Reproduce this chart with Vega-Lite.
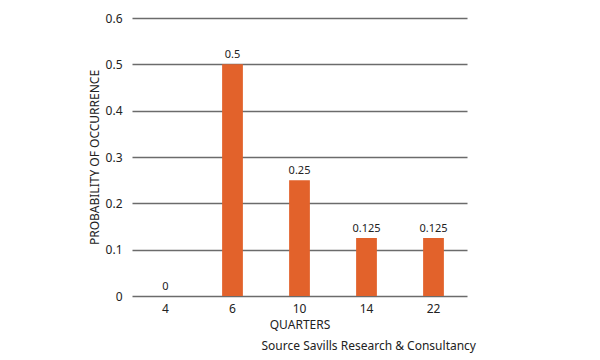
{
  "$schema": "https://vega.github.io/schema/vega-lite/v6.json",
  "width": 335,
  "height": 278,
  "autosize": {"type": "none"},
  "padding": {"left": 132, "top": 18, "right": 133, "bottom": 64},
  "background": "white",
  "data": {
    "values": [
      {"quarters": "4", "p": 0, "label": "0"},
      {"quarters": "6", "p": 0.5, "label": "0.5"},
      {"quarters": "10", "p": 0.25, "label": "0.25"},
      {"quarters": "14", "p": 0.125, "label": "0.125"},
      {"quarters": "22", "p": 0.125, "label": "0.125"}
    ]
  },
  "title": {
    "text": "Source Savills Research & Consultancy",
    "orient": "bottom",
    "anchor": "end",
    "fontSize": 12,
    "fontWeight": "normal",
    "color": "#222222",
    "offset": 11,
    "dx": 9
  },
  "encoding": {
    "x": {
      "field": "quarters",
      "type": "ordinal",
      "sort": null,
      "scale": {"paddingInner": 0.69, "paddingOuter": 0.345},
      "axis": {
        "title": "QUARTERS",
        "labelAngle": 0,
        "labelPadding": 7,
        "titlePadding": 5,
        "ticks": false,
        "domain": false,
        "labelFontSize": 12,
        "titleFontSize": 12,
        "titleFontWeight": "normal",
        "labelColor": "#222222",
        "titleColor": "#222222"
      }
    },
    "y": {
      "field": "p",
      "type": "quantitative",
      "scale": {"domain": [0, 0.6]},
      "axis": {
        "title": "PROBABILITY OF OCCURRENCE",
        "values": [0, 0.1, 0.2, 0.3, 0.4, 0.5, 0.6],
        "labelExpr": "datum.value == 0 ? '0' : format(datum.value, '.1f')",
        "ticks": false,
        "domain": false,
        "grid": true,
        "gridColor": "#6b6b6b",
        "gridWidth": 1.5,
        "gridOpacity": 1,
        "labelPadding": 10,
        "titlePadding": 4,
        "labelFontSize": 12,
        "titleFontSize": 12,
        "titleFontWeight": "normal",
        "labelColor": "#222222",
        "titleColor": "#222222"
      }
    }
  },
  "layer": [
    {"mark": {"type": "bar", "color": "#E2622B"}},
    {
      "mark": {"type": "text", "dy": -9, "fontSize": 11, "color": "#222222"},
      "encoding": {"text": {"field": "label"}}
    }
  ],
  "config": {"view": {"stroke": null}, "font": "Noto Sans"}
}
